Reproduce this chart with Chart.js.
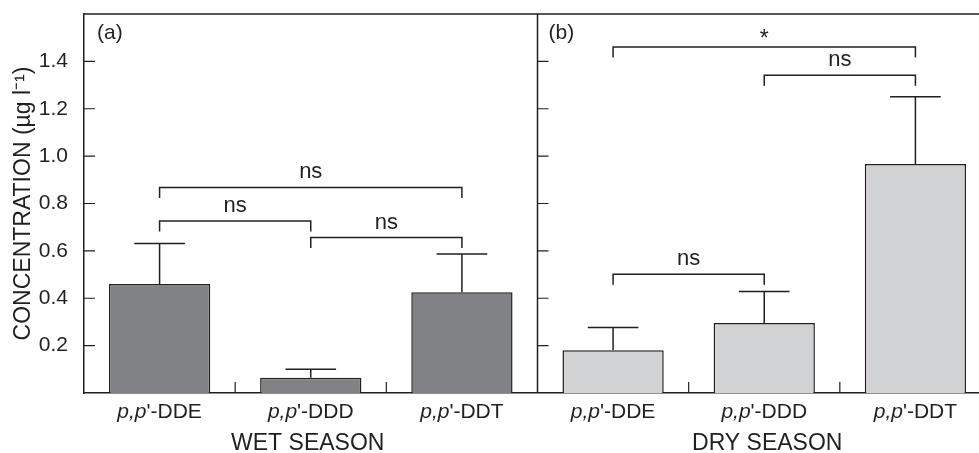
<!DOCTYPE html>
<html>
<head>
<meta charset="utf-8">
<script src="https://cdn.jsdelivr.net/npm/chart.js@4.4.0/dist/chart.umd.min.js"></script>
<style>
  html, body { margin: 0; padding: 0; overflow: hidden; background: #fff; }
  #wrap { position: relative; width: 1000px; height: 453px; }
</style>
</head>
<body>
<div id="wrap"><canvas id="myChart" width="1000" height="453"></canvas></div>
<script>
// chart values
const categories = ["p,p'-DDE", "p,p'-DDD", "p,p'-DDT", "p,p'-DDE", "p,p'-DDD", "p,p'-DDT"];
const seasons = ['WET SEASON', 'DRY SEASON'];
const panelTags = ['(a)', '(b)'];
const meanValues = [0.46, 0.064, 0.425, 0.181, 0.295, 0.967];
const errorTops = [0.631, 0.10, 0.587, 0.277, 0.429, 1.251];
const yTickLabels = ['0.2', '0.4', '0.6', '0.8', '1.0', '1.2', '1.4'];
// [from category, to category, bracket height, label]
const brackets = [
  [0, 2, 0.868, 'ns'],
  [0, 1, 0.726, 'ns'],
  [1, 2, 0.656, 'ns'],
  [3, 5, 1.461, '*'],
  [4, 5, 1.341, 'ns'],
  [3, 4, 0.501, 'ns']
];

const ink = '#231f20';
const fontFamily = '"Liberation Sans", Arial, Helvetica, sans-serif';
const barColors = ['#818285', '#818285', '#818285', '#d1d2d4', '#d1d2d4', '#d1d2d4'];

const decorPlugin = {
  id: 'decor',
  afterDatasetsDraw(chart) {
    const ctx = chart.ctx;
    const y = chart.scales.y;
    const meta = chart.getDatasetMeta(0);
    ctx.save();
    ctx.strokeStyle = ink;
    ctx.lineWidth = 1.5;
    // error bars (upper only)
    meta.data.forEach((bar, i) => {
      const top = y.getPixelForValue(errorTops[i]);
      const half = bar.width / 4;
      ctx.beginPath();
      ctx.moveTo(bar.x, bar.y);
      ctx.lineTo(bar.x, top);
      ctx.moveTo(bar.x - half, top);
      ctx.lineTo(bar.x + half, top);
      ctx.stroke();
    });
    ctx.restore();
  },
  afterDraw(chart) {
    const ctx = chart.ctx;
    const x = chart.scales.x;
    const y = chart.scales.y;
    const area = chart.chartArea;
    const mid = (a, b) => (x.getPixelForValue(a) + x.getPixelForValue(b)) / 2;
    const divider = mid(2, 3);

    ctx.save();
    ctx.strokeStyle = ink;
    ctx.lineWidth = 1.5;

    // top frame and panel divider
    ctx.beginPath();
    ctx.moveTo(area.left, area.top);
    ctx.lineTo(chart.width, area.top);
    ctx.moveTo(divider, area.top);
    ctx.lineTo(divider, area.bottom);
    ctx.stroke();

    // inward y ticks on both panels
    ctx.lineWidth = 1.2;
    ctx.beginPath();
    yTickLabels.forEach(t => {
      const py = y.getPixelForValue(parseFloat(t));
      [area.left, divider].forEach(px => {
        ctx.moveTo(px, py);
        ctx.lineTo(px + 11, py);
      });
    });
    // category separators on the x axis
    [mid(0, 1), mid(1, 2), mid(3, 4), mid(4, 5)].forEach(px => {
      ctx.moveTo(px, area.bottom);
      ctx.lineTo(px, area.bottom - 11);
    });
    ctx.stroke();

    // significance brackets
    ctx.lineWidth = 1.5;
    ctx.fillStyle = ink;
    ctx.textAlign = 'center';
    ctx.textBaseline = 'alphabetic';
    brackets.forEach(([a, b, v, label]) => {
      const x1 = x.getPixelForValue(a);
      const x2 = x.getPixelForValue(b);
      const py = y.getPixelForValue(v);
      ctx.beginPath();
      ctx.moveTo(x1, py + 10.5);
      ctx.lineTo(x1, py);
      ctx.lineTo(x2, py);
      ctx.lineTo(x2, py + 10.5);
      ctx.stroke();
      if (label === '*') {
        ctx.font = '23px ' + fontFamily;
        ctx.fillText(label, (x1 + x2) / 2, py - 1);
      } else {
        ctx.font = '22px ' + fontFamily;
        ctx.fillText(label, (x1 + x2) / 2, py - 9);
      }
    });

    // panel tags
    ctx.font = '21px ' + fontFamily;
    ctx.textAlign = 'left';
    ctx.fillText(panelTags[0], area.left + 13, area.top + 25);
    ctx.fillText(panelTags[1], divider + 11, area.top + 25);

    // category labels with italic p,p
    categories.forEach((label, i) => {
      const cut = label.indexOf("'");
      const ital = label.slice(0, cut);
      const rest = label.slice(cut);
      const italFont = 'italic 21px ' + fontFamily;
      const normFont = '21px ' + fontFamily;
      ctx.font = italFont;
      const w1 = ctx.measureText(ital).width;
      ctx.font = normFont;
      const w2 = ctx.measureText(rest).width;
      const start = x.getPixelForValue(i) - (w1 + w2) / 2;
      ctx.textAlign = 'left';
      ctx.font = italFont;
      ctx.fillText(ital, start, area.bottom + 25);
      ctx.font = normFont;
      ctx.fillText(rest, start + w1, area.bottom + 25);
    });

    // season labels
    ctx.font = '23px ' + fontFamily;
    ctx.textAlign = 'center';
    ctx.fillText(seasons[0], (area.left + divider) / 2 - 3, area.bottom + 57);
    ctx.fillText(seasons[1], (divider + area.right) / 2 + 3, area.bottom + 57);
    ctx.restore();
  }
};

const ctx = document.getElementById('myChart').getContext('2d');
new Chart(ctx, {
  type: 'bar',
  data: {
    labels: categories,
    datasets: [{
      data: meanValues,
      backgroundColor: barColors,
      borderColor: ink,
      borderWidth: 1.5,
      borderSkipped: 'bottom',
      barPercentage: 0.67,
      categoryPercentage: 1.0
    }]
  },
  options: {
    responsive: false,
    animation: false,
    devicePixelRatio: 1,
    layout: { padding: { left: 0, top: 14, right: 9, bottom: 0 } },
    plugins: { legend: { display: false }, tooltip: { enabled: false } },
    scales: {
      x: {
        grid: { display: false },
        border: { display: true, color: ink, width: 1.5 },
        ticks: { display: false },
        afterFit(scale) { scale.height = 60; scale.paddingLeft = 0; scale.paddingRight = 0; }
      },
      y: {
        min: 0,
        max: 1.6,
        grid: { display: false },
        border: { display: true, color: ink, width: 1.5 },
        afterBuildTicks(scale) {
          scale.ticks = yTickLabels.map(t => ({ value: parseFloat(t) }));
        },
        ticks: {
          color: ink,
          padding: 8,
          font: { family: fontFamily, size: 21 },
          callback: v => v.toFixed(1)
        },
        title: {
          display: true,
          text: 'CONCENTRATION (µg l⁻¹)',
          color: ink,
          font: { family: fontFamily, size: 23 },
          padding: { top: 10, bottom: 0 }
        },
        afterFit(scale) { scale.width = 84; scale.paddingTop = 0; scale.paddingBottom = 0; }
      }
    }
  },
  plugins: [decorPlugin]
});
</script>
</body>
</html>
